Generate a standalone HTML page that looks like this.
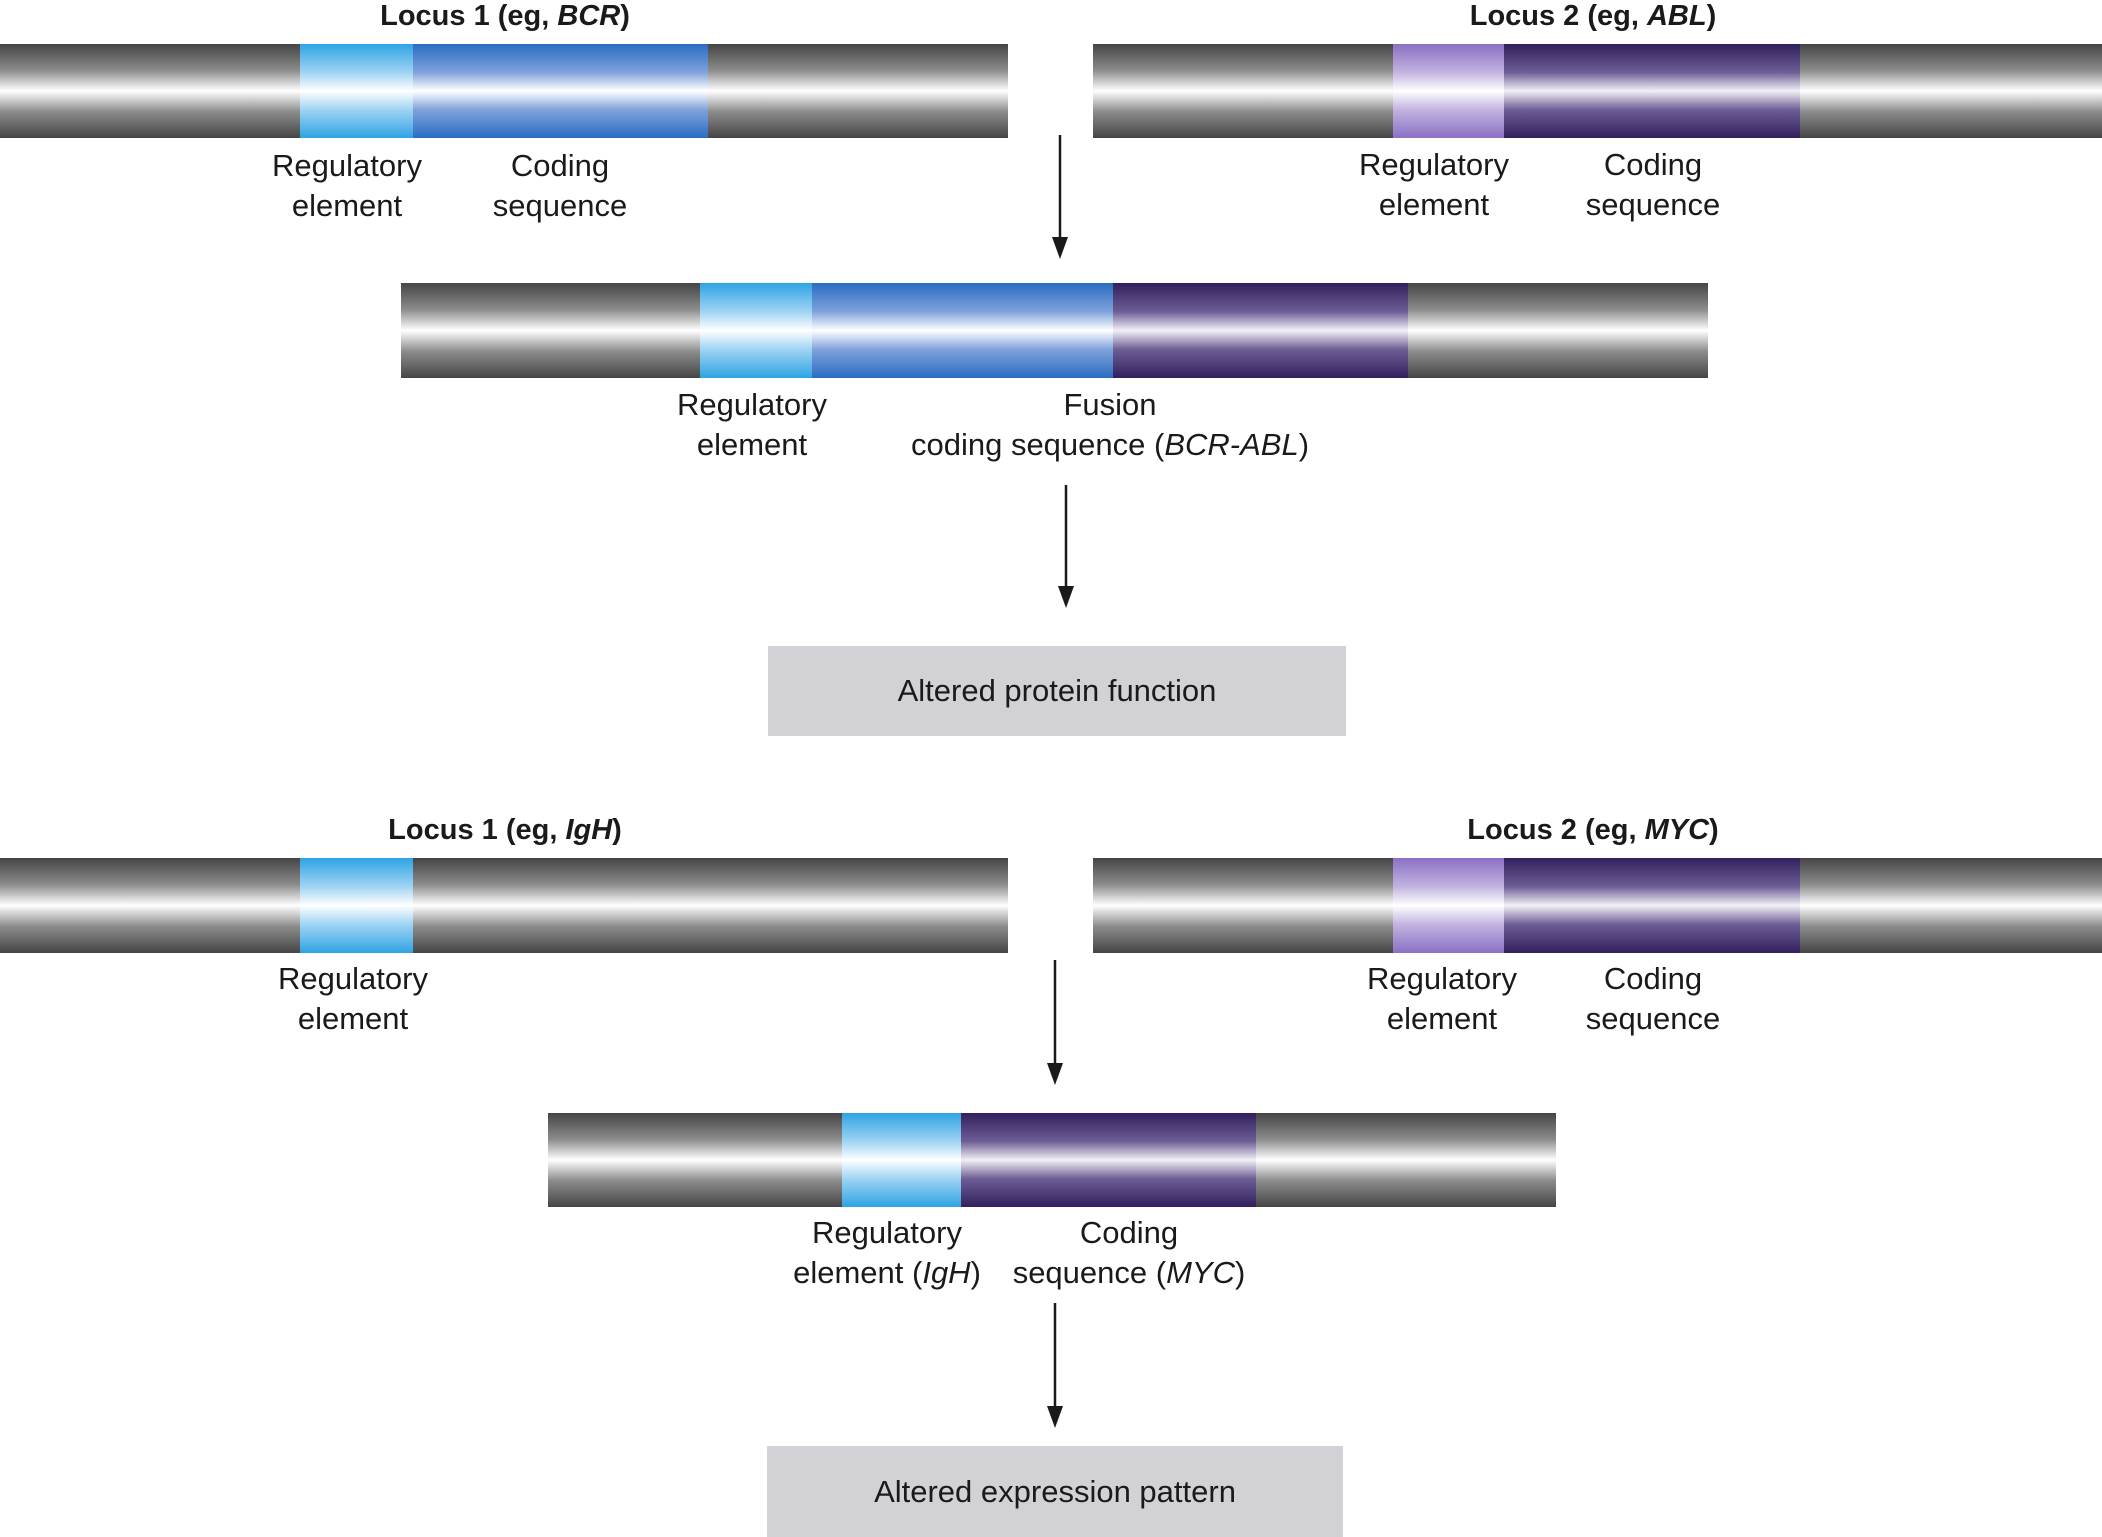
<!DOCTYPE html>
<html><head><meta charset="utf-8"><style>
body{margin:0;width:2102px;height:1537px;background:#fff;position:relative;overflow:hidden;font-family:"Liberation Sans",Arial,sans-serif;color:#1a1a1a}
.s{position:absolute}
.g{background:linear-gradient(#454545,#8c8c8c 28%,#fff 50%,#8c8c8c 72%,#454545)}
.rb{background:linear-gradient(#2ea4e4,#9fd3f3 30%,#fff 50%,#9fd3f3 70%,#2ea4e4)}
.cb{background:linear-gradient(#2a6cc2,#7fa2db 30%,#fff 50%,#7fa2db 70%,#2a6cc2)}
.rp{background:linear-gradient(#8a70c4,#c2b3e0 30%,#fff 50%,#c2b3e0 70%,#8a70c4)}
.cp{background:linear-gradient(#32205e,#6d5d95 30%,#f2f0f6 50%,#6d5d95 70%,#32205e)}
.t{position:absolute;transform:translateX(-50%);text-align:center;font-size:31px;line-height:40px;white-space:nowrap}
.h{position:absolute;transform:translateX(-50%);font-size:29px;font-weight:bold;white-space:nowrap;line-height:32px}
.box{position:absolute;background:#d1d1d6;font-size:31px;display:flex;align-items:center;justify-content:center}
</style></head><body>
<div class="h" style="left:505px;top:0px">Locus 1 (eg, <i>BCR</i>)</div>
<div class="h" style="left:1593px;top:0px">Locus 2 (eg, <i>ABL</i>)</div>
<!-- A1 -->
<div class="s g" style="left:0;top:44px;width:1008px;height:94px"></div>
<div class="s rb" style="left:300px;top:44px;width:113px;height:94px"></div>
<div class="s cb" style="left:413px;top:44px;width:295px;height:94px"></div>
<div class="t" style="left:347px;top:146px">Regulatory<br>element</div>
<div class="t" style="left:560px;top:146px">Coding<br>sequence</div>
<!-- A2 -->
<div class="s g" style="left:1093px;top:44px;width:1009px;height:94px"></div>
<div class="s rp" style="left:1393px;top:44px;width:111px;height:94px"></div>
<div class="s cp" style="left:1504px;top:44px;width:296px;height:94px"></div>
<div class="t" style="left:1434px;top:145px">Regulatory<br>element</div>
<div class="t" style="left:1653px;top:145px">Coding<br>sequence</div>
<!-- B -->
<div class="s g" style="left:401px;top:283px;width:1307px;height:95px"></div>
<div class="s rb" style="left:700px;top:283px;width:112px;height:95px"></div>
<div class="s cb" style="left:812px;top:283px;width:301px;height:95px"></div>
<div class="s cp" style="left:1113px;top:283px;width:295px;height:95px"></div>
<div class="t" style="left:752px;top:385px">Regulatory<br>element</div>
<div class="t" style="left:1110px;top:385px">Fusion<br>coding sequence (<i>BCR-ABL</i>)</div>
<div class="box" style="left:768px;top:646px;width:578px;height:90px">Altered protein function</div>
<div class="h" style="left:505px;top:814px">Locus 1 (eg, <i>IgH</i>)</div>
<div class="h" style="left:1593px;top:814px">Locus 2 (eg, <i>MYC</i>)</div>
<!-- C1 -->
<div class="s g" style="left:0;top:858px;width:1008px;height:95px"></div>
<div class="s rb" style="left:300px;top:858px;width:113px;height:95px"></div>
<div class="t" style="left:353px;top:959px">Regulatory<br>element</div>
<!-- C2 -->
<div class="s g" style="left:1093px;top:858px;width:1009px;height:95px"></div>
<div class="s rp" style="left:1393px;top:858px;width:111px;height:95px"></div>
<div class="s cp" style="left:1504px;top:858px;width:296px;height:95px"></div>
<div class="t" style="left:1442px;top:959px">Regulatory<br>element</div>
<div class="t" style="left:1653px;top:959px">Coding<br>sequence</div>
<!-- D -->
<div class="s g" style="left:548px;top:1113px;width:1008px;height:94px"></div>
<div class="s rb" style="left:842px;top:1113px;width:119px;height:94px"></div>
<div class="s cp" style="left:961px;top:1113px;width:295px;height:94px"></div>
<div class="t" style="left:887px;top:1213px">Regulatory<br>element (<i>IgH</i>)</div>
<div class="t" style="left:1129px;top:1213px">Coding<br>sequence (<i>MYC</i>)</div>
<div class="box" style="left:767px;top:1446px;width:576px;height:91px">Altered expression pattern</div>
<svg class="s" style="left:0;top:0" width="2102" height="1537">
<g stroke="#1a1a1a" stroke-width="2.5" fill="#1a1a1a">
<line x1="1060" y1="135" x2="1060" y2="245"/><polygon points="1052,237 1068,237 1060,259" stroke="none"/>
<line x1="1066" y1="485" x2="1066" y2="594"/><polygon points="1058,586 1074,586 1066,608" stroke="none"/>
<line x1="1055" y1="960" x2="1055" y2="1071"/><polygon points="1047,1063 1063,1063 1055,1085" stroke="none"/>
<line x1="1055" y1="1303" x2="1055" y2="1414"/><polygon points="1047,1406 1063,1406 1055,1428" stroke="none"/>
</g></svg>
</body></html>
